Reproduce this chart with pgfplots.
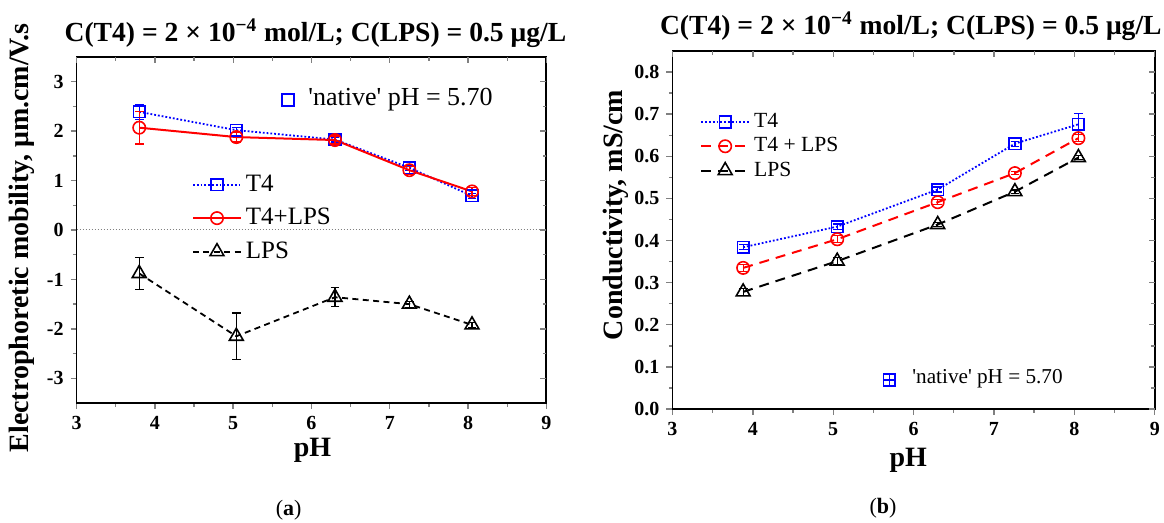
\documentclass[border=0pt]{standalone}
\usepackage{pgfplots}
\pgfplotsset{compat=1.18}
\usepackage{fontspec}
\setmainfont{Liberation Serif}
\definecolor{cblue}{RGB}{0,0,255}
\definecolor{cred}{RGB}{255,0,0}

\tikzset{lbl/.style={font=\fontsize{14}{16}\selectfont\bfseries}}
\pgfplotsset{
  frame/.style={
    scale only axis, xmin=3, xmax=9, xtick={3,...,9}, minor x tick num=1,
    minor y tick num=1, axis line style={line width=0.9pt},
    major tick style={line width=0.7pt}, minor tick style={line width=0.7pt},
    major tick length=3pt, minor tick length=1.8pt,
    /pgf/number format/assume math mode=true,
    tick label style={font=\fontsize{10}{11}\selectfont\bfseries},
    tick align=outside, xtick pos=bottom, ytick pos=left,
  },
  mirror/.style={
    scale only axis, xmin=3, xmax=9, xtick={3,...,9}, minor x tick num=1,
    minor y tick num=1, axis line style={draw=none},
    major tick style={line width=0.7pt}, minor tick style={line width=0.7pt},
    major tick length=3pt, minor tick length=1.8pt,
    xticklabels={}, yticklabels={},
    tick align=inside, xtick pos=top, ytick pos=right,
  },
  errs/.style={error bars/.cd, y dir=both, y explicit,
    error bar style={solid, line width=0.6pt},
    error mark options={solid, rotate=90, mark size=2.2pt, line width=0.6pt}},
  sT4/.style={color=cblue, densely dotted, line width=0.9pt,
    mark=square, mark size=2.9pt, mark options={solid, line width=0.8pt}},
  sLPS/.style={color=black, dash pattern=on 3pt off 2.2pt, line width=0.9pt,
    mark=triangle, mark size=4pt, mark options={solid, line width=0.8pt}},
  leg/.style={legend image code/.code={
    \draw[mark repeat=2, mark phase=2]
      plot coordinates {(0cm,0cm) (0.42cm,0cm) (0.84cm,0cm)};}},
}

\begin{document}
\begin{tikzpicture}
\useasboundingbox (0,0) rectangle (582pt,261.5pt);

% ---------- (a) electrophoretic mobility ----------
\begin{axis}[frame, at={(38.3pt,60pt)}, anchor=south west,
  width=234.9pt, height=173pt,
  ymin=-3.5, ymax=3.5, ytick={-3,...,3},
  xlabel={pH}, ylabel={Electrophoretic mobility, μm.cm/V.s},
  every axis x label/.style={lbl, at={(rel axis cs:0.502,-0.136)}, anchor=center},
  every axis y label/.style={lbl, at={(rel axis cs:-0.116,0.477)}, anchor=center, rotate=90},
  leg, legend cell align=left,
  legend style={at={(rel axis cs:0.245,0.672)}, anchor=north west,
    draw=none, fill=none, inner sep=0pt, row sep=3pt,
    font=\fontsize{12.5}{14}\selectfont},
]
\addplot[gray, densely dotted, line width=0.5pt, forget plot] coordinates {(3,0) (9,0)};
\addplot+[sT4, errs] coordinates {
  (3.80,2.39) +- (0,0.15)
  (5.04,2.02) +- (0,0.05)
  (6.30,1.83) +- (0,0.05)
  (7.25,1.26) +- (0,0.05)
  (8.05,0.69) +- (0,0.05)
};
\addlegendentry{T4}
\addplot+[color=cred, solid, line width=1pt, mark=o, mark size=3.1pt,
  mark options={solid, line width=0.8pt}, errs] coordinates {
  (3.80,2.07) +- (0,0.33)
  (5.04,1.88) +- (0,0.10)
  (6.30,1.82) +- (0,0.08)
  (7.25,1.21) +- (0,0.08)
  (8.05,0.78) +- (0,0.08)
};
\addlegendentry{T4+LPS}
\addplot+[sLPS, errs] coordinates {
  (3.80,-0.88) +- (0,0.33)
  (5.04,-2.15) +- (0,0.47)
  (6.30,-1.36) +- (0,0.19)
  (7.25,-1.50) +- (0,0.06)
  (8.05,-1.92) +- (0,0.05)
};
\addlegendentry{LPS}
\addplot[only marks, color=cblue, mark=square, mark size=2.9pt,
  mark options={line width=0.8pt}, forget plot] coordinates {(5.70,2.63)};
\node[anchor=west, font=\fontsize{13}{14}\selectfont, inner sep=0pt]
  at (axis cs:5.955,2.63) {\textquotesingle native\textquotesingle{} pH = 5.70};
\end{axis}
\begin{axis}[mirror, at={(38.3pt,60pt)}, anchor=south west,
  width=234.9pt, height=173pt, ymin=-3.5, ymax=3.5, ytick={-3,...,3}]
\end{axis}

% ---------- (b) conductivity ----------
\begin{axis}[frame, at={(336.2pt,57pt)}, anchor=south west,
  width=241.2pt, height=179pt,
  ymin=0, ymax=0.85, ytick={0,0.1,...,0.8},
  yticklabel style={/pgf/number format/.cd, fixed, fixed zerofill, precision=1},
  xlabel={pH}, ylabel={Conductivity, mS/cm},
  every axis x label/.style={lbl, at={(rel axis cs:0.489,-0.142)}, anchor=center},
  every axis y label/.style={lbl, at={(rel axis cs:-0.118,0.542)}, anchor=center, rotate=90},
  leg, legend cell align=left,
  legend style={at={(rel axis cs:0.057,0.838)}, anchor=north west,
    draw=none, fill=none, inner sep=0pt, row sep=-0.5pt,
    font=\fontsize{10.8}{12}\selectfont},
]
\addplot+[sT4, errs] coordinates {
  (3.88,0.384) +- (0,0.006)
  (5.05,0.433) +- (0,0.006)
  (6.30,0.521) +- (0,0.006)
  (7.26,0.630) +- (0,0.006)
  (8.05,0.676) +- (0,0.025)
};
\addlegendentry{T4}
\addplot+[color=cred, dash pattern=on 5pt off 3.5pt, line width=1pt, mark=o,
  mark size=3.1pt, mark options={solid, line width=0.8pt}, errs] coordinates {
  (3.88,0.335) +- (0,0.008)
  (5.05,0.403) +- (0,0.008)
  (6.30,0.491) +- (0,0.006)
  (7.26,0.560) +- (0,0.004)
  (8.05,0.643) +- (0,0.008)
};
\addlegendentry{T4 + LPS}
\addplot+[sLPS, dash pattern=on 5pt off 3.5pt, line width=1pt, errs] coordinates {
  (3.88,0.278) +- (0,0.008)
  (5.05,0.351) +- (0,0.008)
  (6.30,0.438) +- (0,0.004)
  (7.26,0.516) +- (0,0.004)
  (8.05,0.597) +- (0,0.004)
};
\addlegendentry{LPS}
\addplot[only marks, color=cblue, mark=square, mark size=2.9pt,
  mark options={line width=0.8pt}, forget plot] coordinates {(5.70,0.069)};
\addplot[only marks, color=cblue, mark=+, mark size=2.9pt,
  mark options={line width=0.6pt}, forget plot] coordinates {(5.70,0.069)};
\node[anchor=west, font=\fontsize{10.6}{12}\selectfont, inner sep=0pt]
  at (axis cs:5.98,0.073) {\textquotesingle native\textquotesingle{} pH = 5.70};
\end{axis}
\begin{axis}[mirror, at={(336.2pt,57pt)}, anchor=south west,
  width=241.2pt, height=179pt, ymin=0, ymax=0.85, ytick={0,0.1,...,0.8}]
\end{axis}

% titles and panel captions
\node[anchor=base, font=\fontsize{13.8}{15}\selectfont\bfseries] at (157.7pt,240.6pt)
  {C(T4) = 2 × 10\textsuperscript{−4} mol/L; C(LPS) = 0.5 μg/L};
\node[anchor=base east, inner sep=0pt, font=\fontsize{13.8}{15}\selectfont\bfseries] at (581pt,244pt)
  {C(T4) = 2 × 10\textsuperscript{−4} mol/L; C(LPS) = 0.5 μg/L};
\node[font=\fontsize{11}{12}\selectfont] at (144.3pt,6.5pt) {(\textbf{a})};
\node[font=\fontsize{11}{12}\selectfont] at (441.5pt,7.5pt) {(\textbf{b})};
\end{tikzpicture}
\end{document}
